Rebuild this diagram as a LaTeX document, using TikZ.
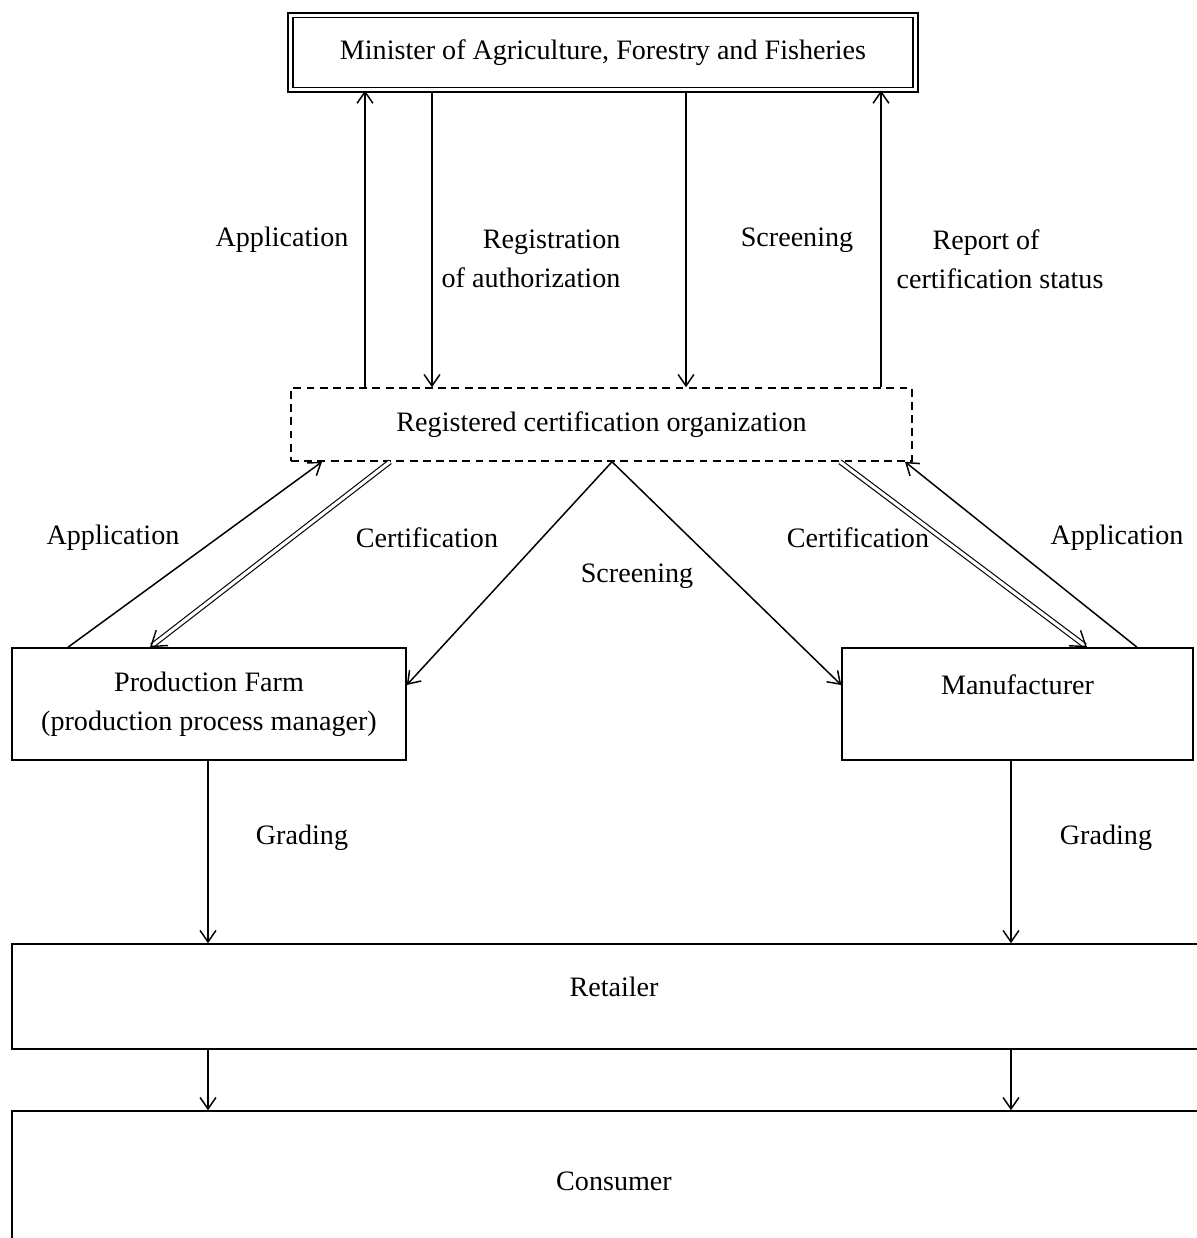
\documentclass[tikz,border=0pt]{standalone}
\usepackage{fontspec}
\setmainfont{Liberation Serif}
\usetikzlibrary{arrows.meta,positioning,decorations.markings}

\begin{document}
\begin{tikzpicture}[
    x=0.02cm, y=-0.02cm,
    font=\fontsize{16}{22}\selectfont,
    box/.style={draw, rectangle, line width=0.9pt, align=center, inner sep=0pt, minimum height=2.24cm},
    arrow/.style={-{Straight Barb[length=6.5pt,width=9pt]}, line width=0.85pt},
    dblarrow/.style={double, double distance=1.8pt, line width=0.65pt, shorten >=1.5pt,
        postaction={decorate, decoration={markings,
            mark=at position 1 with {\arrow[line width=0.8pt]{Straight Barb[length=8pt,width=11pt]}}}}},
    lbl/.style={align=center, inner sep=0pt}
]
\useasboundingbox (0,0) rectangle (1197,1238);
\clip (0,0) rectangle (1197,1238);

% Boxes
\node[box, double, double distance=1.7pt, minimum width=12.5cm, minimum height=1.49cm] (minister) at (603,52.5) {Minister of Agriculture, Forestry and Fisheries};
\node[box, dash pattern=on 4.5pt off 3pt, minimum width=12.42cm, minimum height=1.46cm] (rco) at (601.5,424.5) {Registered certification organization};
\node[box, minimum width=7.88cm] (farm) at (209,704) {Production Farm\\(production process manager)};
\node[box, minimum width=7.02cm] (manu) at (1017.5,704) {Manufacturer\\\mbox{}};
\node[box, minimum width=24.08cm, minimum height=2.1cm] (retailer) at (614,996.5) {Retailer\\[-0.4cm]\mbox{}};
\node[box, minimum width=24.08cm, minimum height=2.8cm] (consumer) at (614,1181) {Consumer};

% Minister <-> organization
\draw[arrow] (365,0 |- rco.north) -- (365,0 |- minister.south);
\draw[arrow] (432,0 |- minister.south) -- (432,0 |- rco.north);
\draw[arrow] (686,0 |- minister.south) -- (686,0 |- rco.north);
\draw[arrow] (881,0 |- rco.north) -- (881,0 |- minister.south);

\node[lbl] (app1) at (282,240) {Application};
\node[lbl, align=right] (reg) at (531,259) {Registration\\of authorization};
\node[lbl] (scr1) at (797,240) {Screening};
\node[lbl, align=left] (rep) at (1000,259) {\hspace*{0.72cm}Report of\\certification status};

% Organization <-> farm / manufacturer
\draw[arrow] (68,0 |- farm.north) -- (322,0 |- rco.south);
\draw[dblarrow] (390,0 |- rco.south) -- (150,0 |- farm.north);
\draw[arrow] (612,0 |- rco.south) -- (farm.east |- 0,685);
\draw[arrow] (612,0 |- rco.south) -- (manu.west |- 0,685);
\draw[dblarrow] (840,0 |- rco.south) -- (1087,0 |- manu.north);
\draw[arrow] (1137,0 |- manu.north) -- (905,0 |- rco.south);

\node[lbl] (app2) at (113,538) {Application};
\node[lbl] (cert1) at (427,538) {Certification};
\node[lbl] (scr2) at (637,576) {Screening};
\node[lbl] (cert2) at (858,538) {Certification};
\node[lbl] (app3) at (1117,538) {Application};

% Grading and distribution
\draw[arrow] (208,0 |- farm.south) -- (208,0 |- retailer.north);
\draw[arrow] (1011,0 |- manu.south) -- (1011,0 |- retailer.north);
\draw[arrow] (208,0 |- retailer.south) -- (208,0 |- consumer.north);
\draw[arrow] (1011,0 |- retailer.south) -- (1011,0 |- consumer.north);

\node[lbl] (grd1) at (302,838) {Grading};
\node[lbl] (grd2) at (1106,838) {Grading};

\end{tikzpicture}
\end{document}
